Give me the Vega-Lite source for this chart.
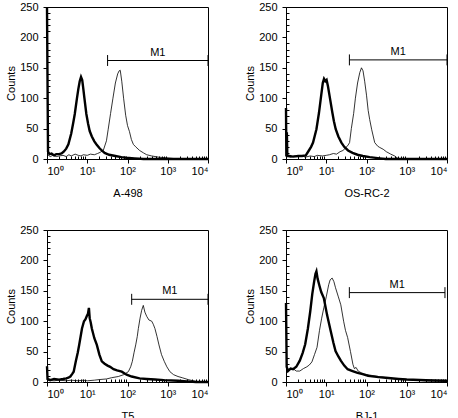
{
  "$schema": "https://vega.github.io/schema/vega-lite/v6.json",
  "padding": {"left": 5, "top": 0, "right": 4, "bottom": 2},
  "config": {
    "font": "Liberation Sans",
    "view": {"stroke": "black", "strokeWidth": 1},
    "axis": {"grid": false, "domainColor": "black", "tickColor": "black", "labelColor": "black", "titleColor": "black", "labelFontSize": 11, "titleFontSize": 11, "titleFontWeight": "normal", "labelPadding": 2, "titlePadding": 3},
    "axisX": {"titlePadding": 11},
    "axisY": {"labelPadding": 5}
  },
  "datasets": {
    "curves": [
      {"panel":"A-498","series":"control","x":1,"y":250},{"panel":"A-498","series":"control","x":1.06,"y":12},{"panel":"A-498","series":"control","x":1.15,"y":8},{"panel":"A-498","series":"control","x":1.3,"y":9},{"panel":"A-498","series":"control","x":1.5,"y":6},{"panel":"A-498","series":"control","x":1.7,"y":8},{"panel":"A-498","series":"control","x":2,"y":8},{"panel":"A-498","series":"control","x":2.3,"y":9},{"panel":"A-498","series":"control","x":2.6,"y":12},{"panel":"A-498","series":"control","x":3,"y":17},{"panel":"A-498","series":"control","x":3.4,"y":24},{"panel":"A-498","series":"control","x":4,"y":42},{"panel":"A-498","series":"control","x":4.5,"y":60},{"panel":"A-498","series":"control","x":4.9,"y":74},{"panel":"A-498","series":"control","x":5.5,"y":98},{"panel":"A-498","series":"control","x":6,"y":115},{"panel":"A-498","series":"control","x":6.5,"y":128},{"panel":"A-498","series":"control","x":7,"y":135},{"panel":"A-498","series":"control","x":7.5,"y":130},{"panel":"A-498","series":"control","x":8,"y":115},{"panel":"A-498","series":"control","x":8.5,"y":100},{"panel":"A-498","series":"control","x":9.5,"y":74},{"panel":"A-498","series":"control","x":10.5,"y":58},{"panel":"A-498","series":"control","x":11.5,"y":46},{"panel":"A-498","series":"control","x":13,"y":37},{"panel":"A-498","series":"control","x":15,"y":29},{"panel":"A-498","series":"control","x":17,"y":24},{"panel":"A-498","series":"control","x":20,"y":18},{"panel":"A-498","series":"control","x":23,"y":14},{"panel":"A-498","series":"control","x":27,"y":10},{"panel":"A-498","series":"control","x":35,"y":7},{"panel":"A-498","series":"control","x":50,"y":5},{"panel":"A-498","series":"control","x":70,"y":3},{"panel":"A-498","series":"control","x":93,"y":2},{"panel":"A-498","series":"control","x":150,"y":1},{"panel":"A-498","series":"control","x":250,"y":0},{"panel":"A-498","series":"control","x":10000,"y":0},
      {"panel":"A-498","series":"sample","x":1,"y":8},{"panel":"A-498","series":"sample","x":1.2,"y":4},{"panel":"A-498","series":"sample","x":1.4,"y":6},{"panel":"A-498","series":"sample","x":1.7,"y":4},{"panel":"A-498","series":"sample","x":2,"y":5},{"panel":"A-498","series":"sample","x":2.5,"y":6},{"panel":"A-498","series":"sample","x":3,"y":4},{"panel":"A-498","series":"sample","x":3.5,"y":7},{"panel":"A-498","series":"sample","x":4,"y":5},{"panel":"A-498","series":"sample","x":5,"y":8},{"panel":"A-498","series":"sample","x":6,"y":6},{"panel":"A-498","series":"sample","x":7,"y":5},{"panel":"A-498","series":"sample","x":8,"y":7},{"panel":"A-498","series":"sample","x":10,"y":6},{"panel":"A-498","series":"sample","x":12,"y":8},{"panel":"A-498","series":"sample","x":15,"y":7},{"panel":"A-498","series":"sample","x":18,"y":9},{"panel":"A-498","series":"sample","x":21,"y":11},{"panel":"A-498","series":"sample","x":25,"y":14},{"panel":"A-498","series":"sample","x":30,"y":30},{"panel":"A-498","series":"sample","x":33,"y":48},{"panel":"A-498","series":"sample","x":38,"y":75},{"panel":"A-498","series":"sample","x":43.5,"y":100},{"panel":"A-498","series":"sample","x":50,"y":125},{"panel":"A-498","series":"sample","x":57,"y":140},{"panel":"A-498","series":"sample","x":62,"y":145},{"panel":"A-498","series":"sample","x":66,"y":146},{"panel":"A-498","series":"sample","x":72,"y":128},{"panel":"A-498","series":"sample","x":80,"y":100},{"panel":"A-498","series":"sample","x":90,"y":72},{"panel":"A-498","series":"sample","x":100,"y":55},{"panel":"A-498","series":"sample","x":112,"y":45},{"panel":"A-498","series":"sample","x":125,"y":32},{"panel":"A-498","series":"sample","x":140,"y":24},{"panel":"A-498","series":"sample","x":160,"y":20},{"panel":"A-498","series":"sample","x":200,"y":14},{"panel":"A-498","series":"sample","x":250,"y":10},{"panel":"A-498","series":"sample","x":300,"y":7},{"panel":"A-498","series":"sample","x":400,"y":5},{"panel":"A-498","series":"sample","x":600,"y":3},{"panel":"A-498","series":"sample","x":900,"y":2},{"panel":"A-498","series":"sample","x":1300,"y":1},{"panel":"A-498","series":"sample","x":2000,"y":0},{"panel":"A-498","series":"sample","x":10000,"y":0},
      {"panel":"OS-RC-2","series":"control","x":1,"y":84},{"panel":"OS-RC-2","series":"control","x":1.02,"y":4},{"panel":"OS-RC-2","series":"control","x":1.05,"y":44},{"panel":"OS-RC-2","series":"control","x":1.08,"y":5},{"panel":"OS-RC-2","series":"control","x":1.2,"y":5},{"panel":"OS-RC-2","series":"control","x":1.5,"y":4},{"panel":"OS-RC-2","series":"control","x":2,"y":5},{"panel":"OS-RC-2","series":"control","x":2.5,"y":5},{"panel":"OS-RC-2","series":"control","x":3.1,"y":6},{"panel":"OS-RC-2","series":"control","x":3.7,"y":14},{"panel":"OS-RC-2","series":"control","x":4.2,"y":20},{"panel":"OS-RC-2","series":"control","x":4.7,"y":27},{"panel":"OS-RC-2","series":"control","x":5.7,"y":49},{"panel":"OS-RC-2","series":"control","x":6.6,"y":76},{"panel":"OS-RC-2","series":"control","x":7.5,"y":105},{"panel":"OS-RC-2","series":"control","x":8.2,"y":125},{"panel":"OS-RC-2","series":"control","x":8.8,"y":132},{"panel":"OS-RC-2","series":"control","x":9.5,"y":128},{"panel":"OS-RC-2","series":"control","x":10.2,"y":130},{"panel":"OS-RC-2","series":"control","x":11,"y":120},{"panel":"OS-RC-2","series":"control","x":12.5,"y":98},{"panel":"OS-RC-2","series":"control","x":14.2,"y":76},{"panel":"OS-RC-2","series":"control","x":15.5,"y":62},{"panel":"OS-RC-2","series":"control","x":17.2,"y":49},{"panel":"OS-RC-2","series":"control","x":20,"y":37},{"panel":"OS-RC-2","series":"control","x":23.8,"y":27},{"panel":"OS-RC-2","series":"control","x":28,"y":20},{"panel":"OS-RC-2","series":"control","x":34.8,"y":14},{"panel":"OS-RC-2","series":"control","x":45,"y":10},{"panel":"OS-RC-2","series":"control","x":60,"y":7},{"panel":"OS-RC-2","series":"control","x":81,"y":5},{"panel":"OS-RC-2","series":"control","x":120,"y":3},{"panel":"OS-RC-2","series":"control","x":213,"y":1},{"panel":"OS-RC-2","series":"control","x":300,"y":0},{"panel":"OS-RC-2","series":"control","x":10000,"y":0},
      {"panel":"OS-RC-2","series":"sample","x":1,"y":5},{"panel":"OS-RC-2","series":"sample","x":1.3,"y":3},{"panel":"OS-RC-2","series":"sample","x":1.6,"y":5},{"panel":"OS-RC-2","series":"sample","x":2,"y":4},{"panel":"OS-RC-2","series":"sample","x":2.5,"y":5},{"panel":"OS-RC-2","series":"sample","x":3,"y":3},{"panel":"OS-RC-2","series":"sample","x":4,"y":5},{"panel":"OS-RC-2","series":"sample","x":5,"y":4},{"panel":"OS-RC-2","series":"sample","x":6,"y":6},{"panel":"OS-RC-2","series":"sample","x":8,"y":5},{"panel":"OS-RC-2","series":"sample","x":10,"y":6},{"panel":"OS-RC-2","series":"sample","x":12,"y":7},{"panel":"OS-RC-2","series":"sample","x":15,"y":9},{"panel":"OS-RC-2","series":"sample","x":18,"y":8},{"panel":"OS-RC-2","series":"sample","x":22,"y":12},{"panel":"OS-RC-2","series":"sample","x":26,"y":14},{"panel":"OS-RC-2","series":"sample","x":30,"y":18},{"panel":"OS-RC-2","series":"sample","x":35,"y":23},{"panel":"OS-RC-2","series":"sample","x":38,"y":27},{"panel":"OS-RC-2","series":"sample","x":42,"y":50},{"panel":"OS-RC-2","series":"sample","x":48,"y":75},{"panel":"OS-RC-2","series":"sample","x":53,"y":100},{"panel":"OS-RC-2","series":"sample","x":60,"y":125},{"panel":"OS-RC-2","series":"sample","x":68,"y":142},{"panel":"OS-RC-2","series":"sample","x":75,"y":150},{"panel":"OS-RC-2","series":"sample","x":82,"y":145},{"panel":"OS-RC-2","series":"sample","x":90,"y":128},{"panel":"OS-RC-2","series":"sample","x":100,"y":105},{"panel":"OS-RC-2","series":"sample","x":110,"y":80},{"panel":"OS-RC-2","series":"sample","x":120,"y":65},{"panel":"OS-RC-2","series":"sample","x":135,"y":48},{"panel":"OS-RC-2","series":"sample","x":160,"y":27},{"panel":"OS-RC-2","series":"sample","x":190,"y":21},{"panel":"OS-RC-2","series":"sample","x":213,"y":19},{"panel":"OS-RC-2","series":"sample","x":260,"y":16},{"panel":"OS-RC-2","series":"sample","x":311,"y":12},{"panel":"OS-RC-2","series":"sample","x":400,"y":8},{"panel":"OS-RC-2","series":"sample","x":500,"y":5},{"panel":"OS-RC-2","series":"sample","x":600,"y":1},{"panel":"OS-RC-2","series":"sample","x":800,"y":0},{"panel":"OS-RC-2","series":"sample","x":10000,"y":0},
      {"panel":"T5","series":"control","x":1,"y":26},{"panel":"T5","series":"control","x":1.03,"y":5},{"panel":"T5","series":"control","x":1.2,"y":3},{"panel":"T5","series":"control","x":1.5,"y":5},{"panel":"T5","series":"control","x":2,"y":4},{"panel":"T5","series":"control","x":2.5,"y":5},{"panel":"T5","series":"control","x":3,"y":6},{"panel":"T5","series":"control","x":3.4,"y":7},{"panel":"T5","series":"control","x":3.8,"y":9},{"panel":"T5","series":"control","x":4.2,"y":13},{"panel":"T5","series":"control","x":4.6,"y":17},{"panel":"T5","series":"control","x":5.2,"y":34},{"panel":"T5","series":"control","x":5.8,"y":48},{"panel":"T5","series":"control","x":6.3,"y":61},{"panel":"T5","series":"control","x":7.4,"y":88},{"panel":"T5","series":"control","x":8.3,"y":100},{"panel":"T5","series":"control","x":9,"y":103},{"panel":"T5","series":"control","x":9.7,"y":108},{"panel":"T5","series":"control","x":10.4,"y":112},{"panel":"T5","series":"control","x":11,"y":122},{"panel":"T5","series":"control","x":11.5,"y":105},{"panel":"T5","series":"control","x":12.2,"y":98},{"panel":"T5","series":"control","x":13,"y":88},{"panel":"T5","series":"control","x":15,"y":72},{"panel":"T5","series":"control","x":17.3,"y":61},{"panel":"T5","series":"control","x":20,"y":45},{"panel":"T5","series":"control","x":23,"y":34},{"panel":"T5","series":"control","x":27,"y":30},{"panel":"T5","series":"control","x":32,"y":27},{"panel":"T5","series":"control","x":37,"y":25},{"panel":"T5","series":"control","x":45,"y":21},{"panel":"T5","series":"control","x":55,"y":19},{"panel":"T5","series":"control","x":72,"y":17},{"panel":"T5","series":"control","x":95,"y":12},{"panel":"T5","series":"control","x":127,"y":9},{"panel":"T5","series":"control","x":200,"y":6},{"panel":"T5","series":"control","x":300,"y":5},{"panel":"T5","series":"control","x":480,"y":4},{"panel":"T5","series":"control","x":800,"y":3},{"panel":"T5","series":"control","x":1800,"y":2},{"panel":"T5","series":"control","x":3000,"y":1},{"panel":"T5","series":"control","x":5000,"y":0},{"panel":"T5","series":"control","x":10000,"y":0},
      {"panel":"T5","series":"sample","x":1,"y":3},{"panel":"T5","series":"sample","x":1.5,"y":2},{"panel":"T5","series":"sample","x":2,"y":3},{"panel":"T5","series":"sample","x":3,"y":2},{"panel":"T5","series":"sample","x":4,"y":3},{"panel":"T5","series":"sample","x":6,"y":2},{"panel":"T5","series":"sample","x":8,"y":3},{"panel":"T5","series":"sample","x":10,"y":2},{"panel":"T5","series":"sample","x":15,"y":3},{"panel":"T5","series":"sample","x":20,"y":4},{"panel":"T5","series":"sample","x":30,"y":5},{"panel":"T5","series":"sample","x":40,"y":7},{"panel":"T5","series":"sample","x":59,"y":9},{"panel":"T5","series":"sample","x":80,"y":12},{"panel":"T5","series":"sample","x":105,"y":17},{"panel":"T5","series":"sample","x":120,"y":25},{"panel":"T5","series":"sample","x":132,"y":34},{"panel":"T5","series":"sample","x":145,"y":48},{"panel":"T5","series":"sample","x":160,"y":61},{"panel":"T5","series":"sample","x":175,"y":75},{"panel":"T5","series":"sample","x":186,"y":88},{"panel":"T5","series":"sample","x":205,"y":105},{"panel":"T5","series":"sample","x":225,"y":118},{"panel":"T5","series":"sample","x":247,"y":126},{"panel":"T5","series":"sample","x":270,"y":115},{"panel":"T5","series":"sample","x":300,"y":108},{"panel":"T5","series":"sample","x":340,"y":102},{"panel":"T5","series":"sample","x":400,"y":100},{"panel":"T5","series":"sample","x":437,"y":95},{"panel":"T5","series":"sample","x":480,"y":88},{"panel":"T5","series":"sample","x":540,"y":75},{"panel":"T5","series":"sample","x":605,"y":61},{"panel":"T5","series":"sample","x":700,"y":45},{"panel":"T5","series":"sample","x":818,"y":34},{"panel":"T5","series":"sample","x":950,"y":25},{"panel":"T5","series":"sample","x":1130,"y":17},{"panel":"T5","series":"sample","x":1400,"y":12},{"panel":"T5","series":"sample","x":1800,"y":9},{"panel":"T5","series":"sample","x":2300,"y":7},{"panel":"T5","series":"sample","x":3200,"y":4},{"panel":"T5","series":"sample","x":5000,"y":1},{"panel":"T5","series":"sample","x":7000,"y":0},{"panel":"T5","series":"sample","x":10000,"y":0},
      {"panel":"BJ-1","series":"control","x":1,"y":130},{"panel":"BJ-1","series":"control","x":1.04,"y":25},{"panel":"BJ-1","series":"control","x":1.12,"y":18},{"panel":"BJ-1","series":"control","x":1.3,"y":22},{"panel":"BJ-1","series":"control","x":1.5,"y":21},{"panel":"BJ-1","series":"control","x":1.8,"y":25},{"panel":"BJ-1","series":"control","x":2.2,"y":35},{"panel":"BJ-1","series":"control","x":2.6,"y":48},{"panel":"BJ-1","series":"control","x":3,"y":62},{"panel":"BJ-1","series":"control","x":3.5,"y":88},{"panel":"BJ-1","series":"control","x":4,"y":116},{"panel":"BJ-1","series":"control","x":4.5,"y":145},{"panel":"BJ-1","series":"control","x":5,"y":165},{"panel":"BJ-1","series":"control","x":5.4,"y":178},{"panel":"BJ-1","series":"control","x":5.7,"y":182},{"panel":"BJ-1","series":"control","x":6.1,"y":170},{"panel":"BJ-1","series":"control","x":6.8,"y":158},{"panel":"BJ-1","series":"control","x":7.5,"y":148},{"panel":"BJ-1","series":"control","x":8.7,"y":138},{"panel":"BJ-1","series":"control","x":10.5,"y":110},{"panel":"BJ-1","series":"control","x":12.9,"y":84},{"panel":"BJ-1","series":"control","x":15,"y":65},{"panel":"BJ-1","series":"control","x":17,"y":51},{"panel":"BJ-1","series":"control","x":20,"y":42},{"panel":"BJ-1","series":"control","x":23,"y":35},{"panel":"BJ-1","series":"control","x":28,"y":27},{"panel":"BJ-1","series":"control","x":34,"y":21},{"panel":"BJ-1","series":"control","x":45,"y":18},{"panel":"BJ-1","series":"control","x":60,"y":15},{"panel":"BJ-1","series":"control","x":80,"y":13},{"panel":"BJ-1","series":"control","x":110,"y":10},{"panel":"BJ-1","series":"control","x":200,"y":8},{"panel":"BJ-1","series":"control","x":300,"y":7},{"panel":"BJ-1","series":"control","x":630,"y":5},{"panel":"BJ-1","series":"control","x":1000,"y":4},{"panel":"BJ-1","series":"control","x":3000,"y":3},{"panel":"BJ-1","series":"control","x":10000,"y":2},
      {"panel":"BJ-1","series":"sample","x":1,"y":25},{"panel":"BJ-1","series":"sample","x":1.2,"y":20},{"panel":"BJ-1","series":"sample","x":1.5,"y":22},{"panel":"BJ-1","series":"sample","x":1.8,"y":18},{"panel":"BJ-1","series":"sample","x":2.2,"y":18},{"panel":"BJ-1","series":"sample","x":2.7,"y":22},{"panel":"BJ-1","series":"sample","x":3.3,"y":25},{"panel":"BJ-1","series":"sample","x":3.8,"y":28},{"panel":"BJ-1","series":"sample","x":4.4,"y":33},{"panel":"BJ-1","series":"sample","x":5.1,"y":45},{"panel":"BJ-1","series":"sample","x":5.9,"y":57},{"panel":"BJ-1","series":"sample","x":6.8,"y":85},{"panel":"BJ-1","series":"sample","x":7.7,"y":105},{"panel":"BJ-1","series":"sample","x":8.7,"y":122},{"panel":"BJ-1","series":"sample","x":10,"y":140},{"panel":"BJ-1","series":"sample","x":11.5,"y":160},{"panel":"BJ-1","series":"sample","x":12.5,"y":168},{"panel":"BJ-1","series":"sample","x":14,"y":171},{"panel":"BJ-1","series":"sample","x":15.5,"y":165},{"panel":"BJ-1","series":"sample","x":17,"y":155},{"panel":"BJ-1","series":"sample","x":20,"y":140},{"panel":"BJ-1","series":"sample","x":23,"y":127},{"panel":"BJ-1","series":"sample","x":27,"y":100},{"panel":"BJ-1","series":"sample","x":30,"y":85},{"panel":"BJ-1","series":"sample","x":34,"y":73},{"panel":"BJ-1","series":"sample","x":40,"y":50},{"panel":"BJ-1","series":"sample","x":46,"y":29},{"panel":"BJ-1","series":"sample","x":50,"y":22},{"panel":"BJ-1","series":"sample","x":55,"y":24},{"panel":"BJ-1","series":"sample","x":62,"y":18},{"panel":"BJ-1","series":"sample","x":75,"y":15},{"panel":"BJ-1","series":"sample","x":90,"y":13},{"panel":"BJ-1","series":"sample","x":130,"y":11},{"panel":"BJ-1","series":"sample","x":200,"y":9},{"panel":"BJ-1","series":"sample","x":400,"y":6},{"panel":"BJ-1","series":"sample","x":1000,"y":4},{"panel":"BJ-1","series":"sample","x":3000,"y":2},{"panel":"BJ-1","series":"sample","x":10000,"y":1}
    ],
    "gates": [
      {"panel":"A-498","x1":32,"x2":10000,"y":162},
      {"panel":"OS-RC-2","x1":37.6,"x2":10000,"y":163},
      {"panel":"T5","x1":127,"x2":10000,"y":136},
      {"panel":"BJ-1","x1":37.5,"x2":8900,"y":147}
    ]
  },
  "columns": 2,
  "spacing": {"row": 24, "column": 30},
  "concat": [
    {
      "width": 161, "height": 152,
      "resolve": {"axis": {"x": "independent", "y": "independent"}},
      "layer": [
        {"data": {"name": "curves"}, "transform": [{"filter": "datum.panel === 'A-498'"}],
         "mark": {"type": "line", "color": "black", "clip": false},
         "encoding": {
           "x": {"field": "x", "type": "quantitative", "scale": {"type": "log", "domain": [1, 10000], "nice": false},
                 "axis": {"title": "A-498", "orient": "bottom", "labelOverlap": false, "values": [1,2,3,4,5,6,7,8,9,10,20,30,40,50,60,70,80,90,100,200,300,400,500,600,700,800,900,1000,2000,3000,4000,5000,6000,7000,8000,9000,10000],
                          "labelExpr": "datum.value==1?'10⁰':datum.value==10?'10¹':datum.value==100?'10²':datum.value==1000?'10³':datum.value==10000?'10⁴':''",
                          "tickSize": {"condition": {"test": "datum.value==1||datum.value==10||datum.value==100||datum.value==1000||datum.value==10000", "value": 4}, "value": -3}}},
           "y": {"field": "y", "type": "quantitative", "scale": {"domain": [0, 250], "nice": false},
                 "axis": {"title": "Counts", "orient": "left", "labelOverlap": false, "values": [0,10,20,30,40,50,60,70,80,90,100,110,120,130,140,150,160,170,180,190,200,210,220,230,240,250],
                          "labelExpr": "(datum.value==0||datum.value==50||datum.value==100||datum.value==150||datum.value==200||datum.value==250) ? datum.label : ''",
                          "tickSize": {"condition": {"test": "datum.value==0||datum.value==50||datum.value==100||datum.value==150||datum.value==200||datum.value==250", "value": 4}, "value": -3}}},
           "detail": {"field": "series"},
           "size": {"field": "series", "type": "nominal", "scale": {"domain": ["control", "sample"], "range": [2.4, 0.8]}, "legend": null}
         }},
        {"data": {"name": "gates"}, "transform": [{"filter": "datum.panel === 'A-498'"}],
         "mark": {"type": "rule", "color": "black", "strokeWidth": 1},
         "encoding": {"x": {"field": "x1", "type": "quantitative", "axis": null}, "x2": {"field": "x2"}, "y": {"field": "y", "type": "quantitative", "axis": null}}},
        {"data": {"name": "gates"}, "transform": [{"filter": "datum.panel === 'A-498'"}, {"fold": ["x1", "x2"], "as": ["end", "xe"]}, {"calculate": "datum.y - 9", "as": "lo"}, {"calculate": "datum.y + 9", "as": "hi"}],
         "mark": {"type": "rule", "color": "black", "strokeWidth": 1},
         "encoding": {"x": {"field": "xe", "type": "quantitative", "axis": null}, "y": {"field": "lo", "type": "quantitative", "axis": null}, "y2": {"field": "hi"}}},
        {"data": {"name": "gates"}, "transform": [{"filter": "datum.panel === 'A-498'"}, {"calculate": "sqrt(datum.x1*datum.x2)", "as": "xm"}, {"calculate": "'M1'", "as": "lab"}],
         "mark": {"type": "text", "color": "black", "fontSize": 11, "baseline": "bottom", "dy": -3},
         "encoding": {"x": {"field": "xm", "type": "quantitative", "axis": null}, "y": {"field": "y", "type": "quantitative", "axis": null}, "text": {"field": "lab"}}}
      ]
    },
    {
      "width": 161, "height": 152,
      "resolve": {"axis": {"x": "independent", "y": "independent"}},
      "layer": [
        {"data": {"name": "curves"}, "transform": [{"filter": "datum.panel === 'OS-RC-2'"}],
         "mark": {"type": "line", "color": "black", "clip": false},
         "encoding": {
           "x": {"field": "x", "type": "quantitative", "scale": {"type": "log", "domain": [1, 10000], "nice": false},
                 "axis": {"title": "OS-RC-2", "orient": "bottom", "labelOverlap": false, "values": [1,2,3,4,5,6,7,8,9,10,20,30,40,50,60,70,80,90,100,200,300,400,500,600,700,800,900,1000,2000,3000,4000,5000,6000,7000,8000,9000,10000],
                          "labelExpr": "datum.value==1?'10⁰':datum.value==10?'10¹':datum.value==100?'10²':datum.value==1000?'10³':datum.value==10000?'10⁴':''",
                          "tickSize": {"condition": {"test": "datum.value==1||datum.value==10||datum.value==100||datum.value==1000||datum.value==10000", "value": 4}, "value": -3}}},
           "y": {"field": "y", "type": "quantitative", "scale": {"domain": [0, 250], "nice": false},
                 "axis": {"title": "Counts", "orient": "left", "labelOverlap": false, "values": [0,10,20,30,40,50,60,70,80,90,100,110,120,130,140,150,160,170,180,190,200,210,220,230,240,250],
                          "labelExpr": "(datum.value==0||datum.value==50||datum.value==100||datum.value==150||datum.value==200||datum.value==250) ? datum.label : ''",
                          "tickSize": {"condition": {"test": "datum.value==0||datum.value==50||datum.value==100||datum.value==150||datum.value==200||datum.value==250", "value": 4}, "value": -3}}},
           "detail": {"field": "series"},
           "size": {"field": "series", "type": "nominal", "scale": {"domain": ["control", "sample"], "range": [2.4, 0.8]}, "legend": null}
         }},
        {"data": {"name": "gates"}, "transform": [{"filter": "datum.panel === 'OS-RC-2'"}],
         "mark": {"type": "rule", "color": "black", "strokeWidth": 1},
         "encoding": {"x": {"field": "x1", "type": "quantitative", "axis": null}, "x2": {"field": "x2"}, "y": {"field": "y", "type": "quantitative", "axis": null}}},
        {"data": {"name": "gates"}, "transform": [{"filter": "datum.panel === 'OS-RC-2'"}, {"fold": ["x1", "x2"], "as": ["end", "xe"]}, {"calculate": "datum.y - 9", "as": "lo"}, {"calculate": "datum.y + 9", "as": "hi"}],
         "mark": {"type": "rule", "color": "black", "strokeWidth": 1},
         "encoding": {"x": {"field": "xe", "type": "quantitative", "axis": null}, "y": {"field": "lo", "type": "quantitative", "axis": null}, "y2": {"field": "hi"}}},
        {"data": {"name": "gates"}, "transform": [{"filter": "datum.panel === 'OS-RC-2'"}, {"calculate": "sqrt(datum.x1*datum.x2)", "as": "xm"}, {"calculate": "'M1'", "as": "lab"}],
         "mark": {"type": "text", "color": "black", "fontSize": 11, "baseline": "bottom", "dy": -3},
         "encoding": {"x": {"field": "xm", "type": "quantitative", "axis": null}, "y": {"field": "y", "type": "quantitative", "axis": null}, "text": {"field": "lab"}}}
      ]
    },
    {
      "width": 161, "height": 152,
      "resolve": {"axis": {"x": "independent", "y": "independent"}},
      "layer": [
        {"data": {"name": "curves"}, "transform": [{"filter": "datum.panel === 'T5'"}],
         "mark": {"type": "line", "color": "black", "clip": false},
         "encoding": {
           "x": {"field": "x", "type": "quantitative", "scale": {"type": "log", "domain": [1, 10000], "nice": false},
                 "axis": {"title": "T5", "orient": "bottom", "labelOverlap": false, "values": [1,2,3,4,5,6,7,8,9,10,20,30,40,50,60,70,80,90,100,200,300,400,500,600,700,800,900,1000,2000,3000,4000,5000,6000,7000,8000,9000,10000],
                          "labelExpr": "datum.value==1?'10⁰':datum.value==10?'10¹':datum.value==100?'10²':datum.value==1000?'10³':datum.value==10000?'10⁴':''",
                          "tickSize": {"condition": {"test": "datum.value==1||datum.value==10||datum.value==100||datum.value==1000||datum.value==10000", "value": 4}, "value": -3}}},
           "y": {"field": "y", "type": "quantitative", "scale": {"domain": [0, 250], "nice": false},
                 "axis": {"title": "Counts", "orient": "left", "labelOverlap": false, "values": [0,10,20,30,40,50,60,70,80,90,100,110,120,130,140,150,160,170,180,190,200,210,220,230,240,250],
                          "labelExpr": "(datum.value==0||datum.value==50||datum.value==100||datum.value==150||datum.value==200||datum.value==250) ? datum.label : ''",
                          "tickSize": {"condition": {"test": "datum.value==0||datum.value==50||datum.value==100||datum.value==150||datum.value==200||datum.value==250", "value": 4}, "value": -3}}},
           "detail": {"field": "series"},
           "size": {"field": "series", "type": "nominal", "scale": {"domain": ["control", "sample"], "range": [2.4, 0.8]}, "legend": null}
         }},
        {"data": {"name": "gates"}, "transform": [{"filter": "datum.panel === 'T5'"}],
         "mark": {"type": "rule", "color": "black", "strokeWidth": 1},
         "encoding": {"x": {"field": "x1", "type": "quantitative", "axis": null}, "x2": {"field": "x2"}, "y": {"field": "y", "type": "quantitative", "axis": null}}},
        {"data": {"name": "gates"}, "transform": [{"filter": "datum.panel === 'T5'"}, {"fold": ["x1", "x2"], "as": ["end", "xe"]}, {"calculate": "datum.y - 9", "as": "lo"}, {"calculate": "datum.y + 9", "as": "hi"}],
         "mark": {"type": "rule", "color": "black", "strokeWidth": 1},
         "encoding": {"x": {"field": "xe", "type": "quantitative", "axis": null}, "y": {"field": "lo", "type": "quantitative", "axis": null}, "y2": {"field": "hi"}}},
        {"data": {"name": "gates"}, "transform": [{"filter": "datum.panel === 'T5'"}, {"calculate": "sqrt(datum.x1*datum.x2)", "as": "xm"}, {"calculate": "'M1'", "as": "lab"}],
         "mark": {"type": "text", "color": "black", "fontSize": 11, "baseline": "bottom", "dy": -3},
         "encoding": {"x": {"field": "xm", "type": "quantitative", "axis": null}, "y": {"field": "y", "type": "quantitative", "axis": null}, "text": {"field": "lab"}}}
      ]
    },
    {
      "width": 161, "height": 152,
      "resolve": {"axis": {"x": "independent", "y": "independent"}},
      "layer": [
        {"data": {"name": "curves"}, "transform": [{"filter": "datum.panel === 'BJ-1'"}],
         "mark": {"type": "line", "color": "black", "clip": false},
         "encoding": {
           "x": {"field": "x", "type": "quantitative", "scale": {"type": "log", "domain": [1, 10000], "nice": false},
                 "axis": {"title": "BJ-1", "orient": "bottom", "labelOverlap": false, "values": [1,2,3,4,5,6,7,8,9,10,20,30,40,50,60,70,80,90,100,200,300,400,500,600,700,800,900,1000,2000,3000,4000,5000,6000,7000,8000,9000,10000],
                          "labelExpr": "datum.value==1?'10⁰':datum.value==10?'10¹':datum.value==100?'10²':datum.value==1000?'10³':datum.value==10000?'10⁴':''",
                          "tickSize": {"condition": {"test": "datum.value==1||datum.value==10||datum.value==100||datum.value==1000||datum.value==10000", "value": 4}, "value": -3}}},
           "y": {"field": "y", "type": "quantitative", "scale": {"domain": [0, 250], "nice": false},
                 "axis": {"title": "Counts", "orient": "left", "labelOverlap": false, "values": [0,10,20,30,40,50,60,70,80,90,100,110,120,130,140,150,160,170,180,190,200,210,220,230,240,250],
                          "labelExpr": "(datum.value==0||datum.value==50||datum.value==100||datum.value==150||datum.value==200||datum.value==250) ? datum.label : ''",
                          "tickSize": {"condition": {"test": "datum.value==0||datum.value==50||datum.value==100||datum.value==150||datum.value==200||datum.value==250", "value": 4}, "value": -3}}},
           "detail": {"field": "series"},
           "size": {"field": "series", "type": "nominal", "scale": {"domain": ["control", "sample"], "range": [2.4, 0.8]}, "legend": null}
         }},
        {"data": {"name": "gates"}, "transform": [{"filter": "datum.panel === 'BJ-1'"}],
         "mark": {"type": "rule", "color": "black", "strokeWidth": 1},
         "encoding": {"x": {"field": "x1", "type": "quantitative", "axis": null}, "x2": {"field": "x2"}, "y": {"field": "y", "type": "quantitative", "axis": null}}},
        {"data": {"name": "gates"}, "transform": [{"filter": "datum.panel === 'BJ-1'"}, {"fold": ["x1", "x2"], "as": ["end", "xe"]}, {"calculate": "datum.y - 9", "as": "lo"}, {"calculate": "datum.y + 9", "as": "hi"}],
         "mark": {"type": "rule", "color": "black", "strokeWidth": 1},
         "encoding": {"x": {"field": "xe", "type": "quantitative", "axis": null}, "y": {"field": "lo", "type": "quantitative", "axis": null}, "y2": {"field": "hi"}}},
        {"data": {"name": "gates"}, "transform": [{"filter": "datum.panel === 'BJ-1'"}, {"calculate": "sqrt(datum.x1*datum.x2)", "as": "xm"}, {"calculate": "'M1'", "as": "lab"}],
         "mark": {"type": "text", "color": "black", "fontSize": 11, "baseline": "bottom", "dy": -3},
         "encoding": {"x": {"field": "xm", "type": "quantitative", "axis": null}, "y": {"field": "y", "type": "quantitative", "axis": null}, "text": {"field": "lab"}}}
      ]
    }
  ]
}
